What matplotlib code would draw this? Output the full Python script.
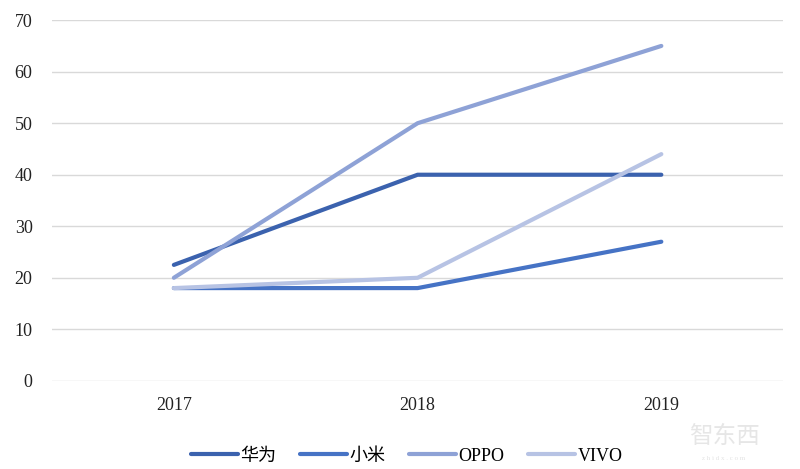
import matplotlib
matplotlib.use("Agg")
import matplotlib.pyplot as plt

# ---- data -------------------------------------------------------------
years = ["2017", "2018", "2019"]
huawei = [22.5, 40, 40]
xiaomi = [18, 18, 27]
oppo = [20, 50, 65]
vivo = [18, 20, 44]

series_names = ["华为", "小米", "OPPO", "VIVO"]
series_colors = ["#3B62AE", "#4673C5", "#8EA2D6", "#B7C3E4"]

plt.rcParams["font.family"] = ["Liberation Serif", "Noto Sans CJK SC"]

fig = plt.figure(figsize=(8, 4.69), dpi=100)
ax = fig.add_axes([0.065, 0.188, 0.914, 0.769])

x = range(len(years))
for vals, name, col in zip([huawei, xiaomi, oppo, vivo], series_names, series_colors):
    ax.plot(x, vals, color=col, lw=3.0, label=name, solid_capstyle="round")

ax.set_xlim(-0.5, 2.5)
ax.set_ylim(0, 70)
ax.set_yticks(range(0, 71, 10))
ax.set_xticks(list(x))
ax.set_xticklabels(years)
ax.tick_params(length=0, labelsize=13, colors="#222222", pad=12)
ax.tick_params(axis="y", pad=14)
ax.grid(axis="y", color="#D9D9D9", lw=1)
ax.set_axisbelow(True)
for s in ax.spines.values():
    s.set_visible(False)

ax.legend(loc="upper center", bbox_to_anchor=(0.485, -0.14), ncol=4, frameon=False,
          fontsize=13, handlelength=2.6, handletextpad=0.15, columnspacing=1.3)

# watermark
fig.text(0.905, 0.055, "智东西", fontsize=17, color="#E6E6E6", ha="center",
         family=["Noto Sans CJK SC"])
fig.text(0.905, 0.02, "z h i d x . c o m", fontsize=5, color="#E3E3E3", ha="center")

fig.savefig("out.png", dpi=100)
